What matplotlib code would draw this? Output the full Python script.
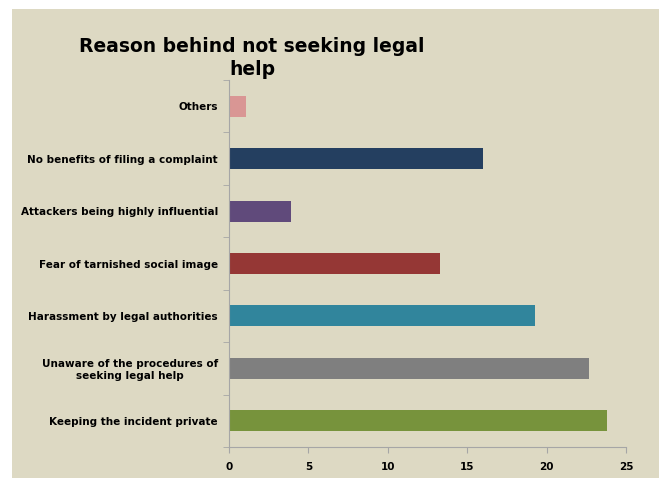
import matplotlib.pyplot as plt
from matplotlib.patches import Rectangle

reasons = ["Keeping the incident private",
           "Unaware of the procedures of\nseeking legal help",
           "Harassment by legal authorities",
           "Fear of tarnished social image",
           "Attackers being highly influential",
           "No benefits of filing a complaint",
           "Others"]
counts = [23.8, 22.7, 19.3, 13.3, 3.9, 16.0, 1.1]
colors = ["#77933C", "#7F7F7F", "#31859C", "#953735", "#604A7B", "#243F60", "#D99694"]

bg = "#DDD9C3"
axis_col = "#A6A6A6"

fig = plt.figure(figsize=(6.61, 4.79), dpi=100)
fig.patch.set_facecolor("white")
# beige chart area
fig.patches.append(Rectangle((12 / 661, 1 - 478 / 479), 647 / 661, 469 / 479,
                             transform=fig.transFigure, facecolor=bg, edgecolor="none", zorder=-5))

ax = fig.add_axes([229 / 661, 1 - 447 / 479, 397 / 661, 367 / 479])
ax.set_zorder(2)
ax.patch.set_alpha(0)

ax.barh(range(len(reasons)), counts, height=0.4, color=colors)
ax.set_xlim(0, 25)
ax.set_ylim(-0.5, len(reasons) - 0.5)
ax.set_xticks([0, 5, 10, 15, 20, 25])
ax.set_yticks(range(len(reasons)))
ax.set_yticklabels(reasons, fontsize=7.5, fontweight="bold", ha="right", multialignment="center")
ax.tick_params(axis="y", length=0, pad=8)
ax.tick_params(axis="x", labelsize=7.5, colors=axis_col, labelcolor="black", length=4, pad=7)
for lab in ax.get_xticklabels():
    lab.set_fontweight("bold")
# minor ticks between categories on y axis
ax.set_yticks([i - 0.5 for i in range(len(reasons) + 1)], minor=True)
ax.tick_params(axis="y", which="minor", length=4, color=axis_col)

for s in ["top", "right"]:
    ax.spines[s].set_visible(False)
for s in ["left", "bottom"]:
    ax.spines[s].set_color(axis_col)

fig.text(252 / 661, 1 - 58 / 479, "Reason behind not seeking legal\nhelp", ha="center", va="center",
         fontsize=13.5, fontweight="bold", linespacing=1.25)

fig.savefig("out.png", dpi=100, facecolor=fig.get_facecolor())
